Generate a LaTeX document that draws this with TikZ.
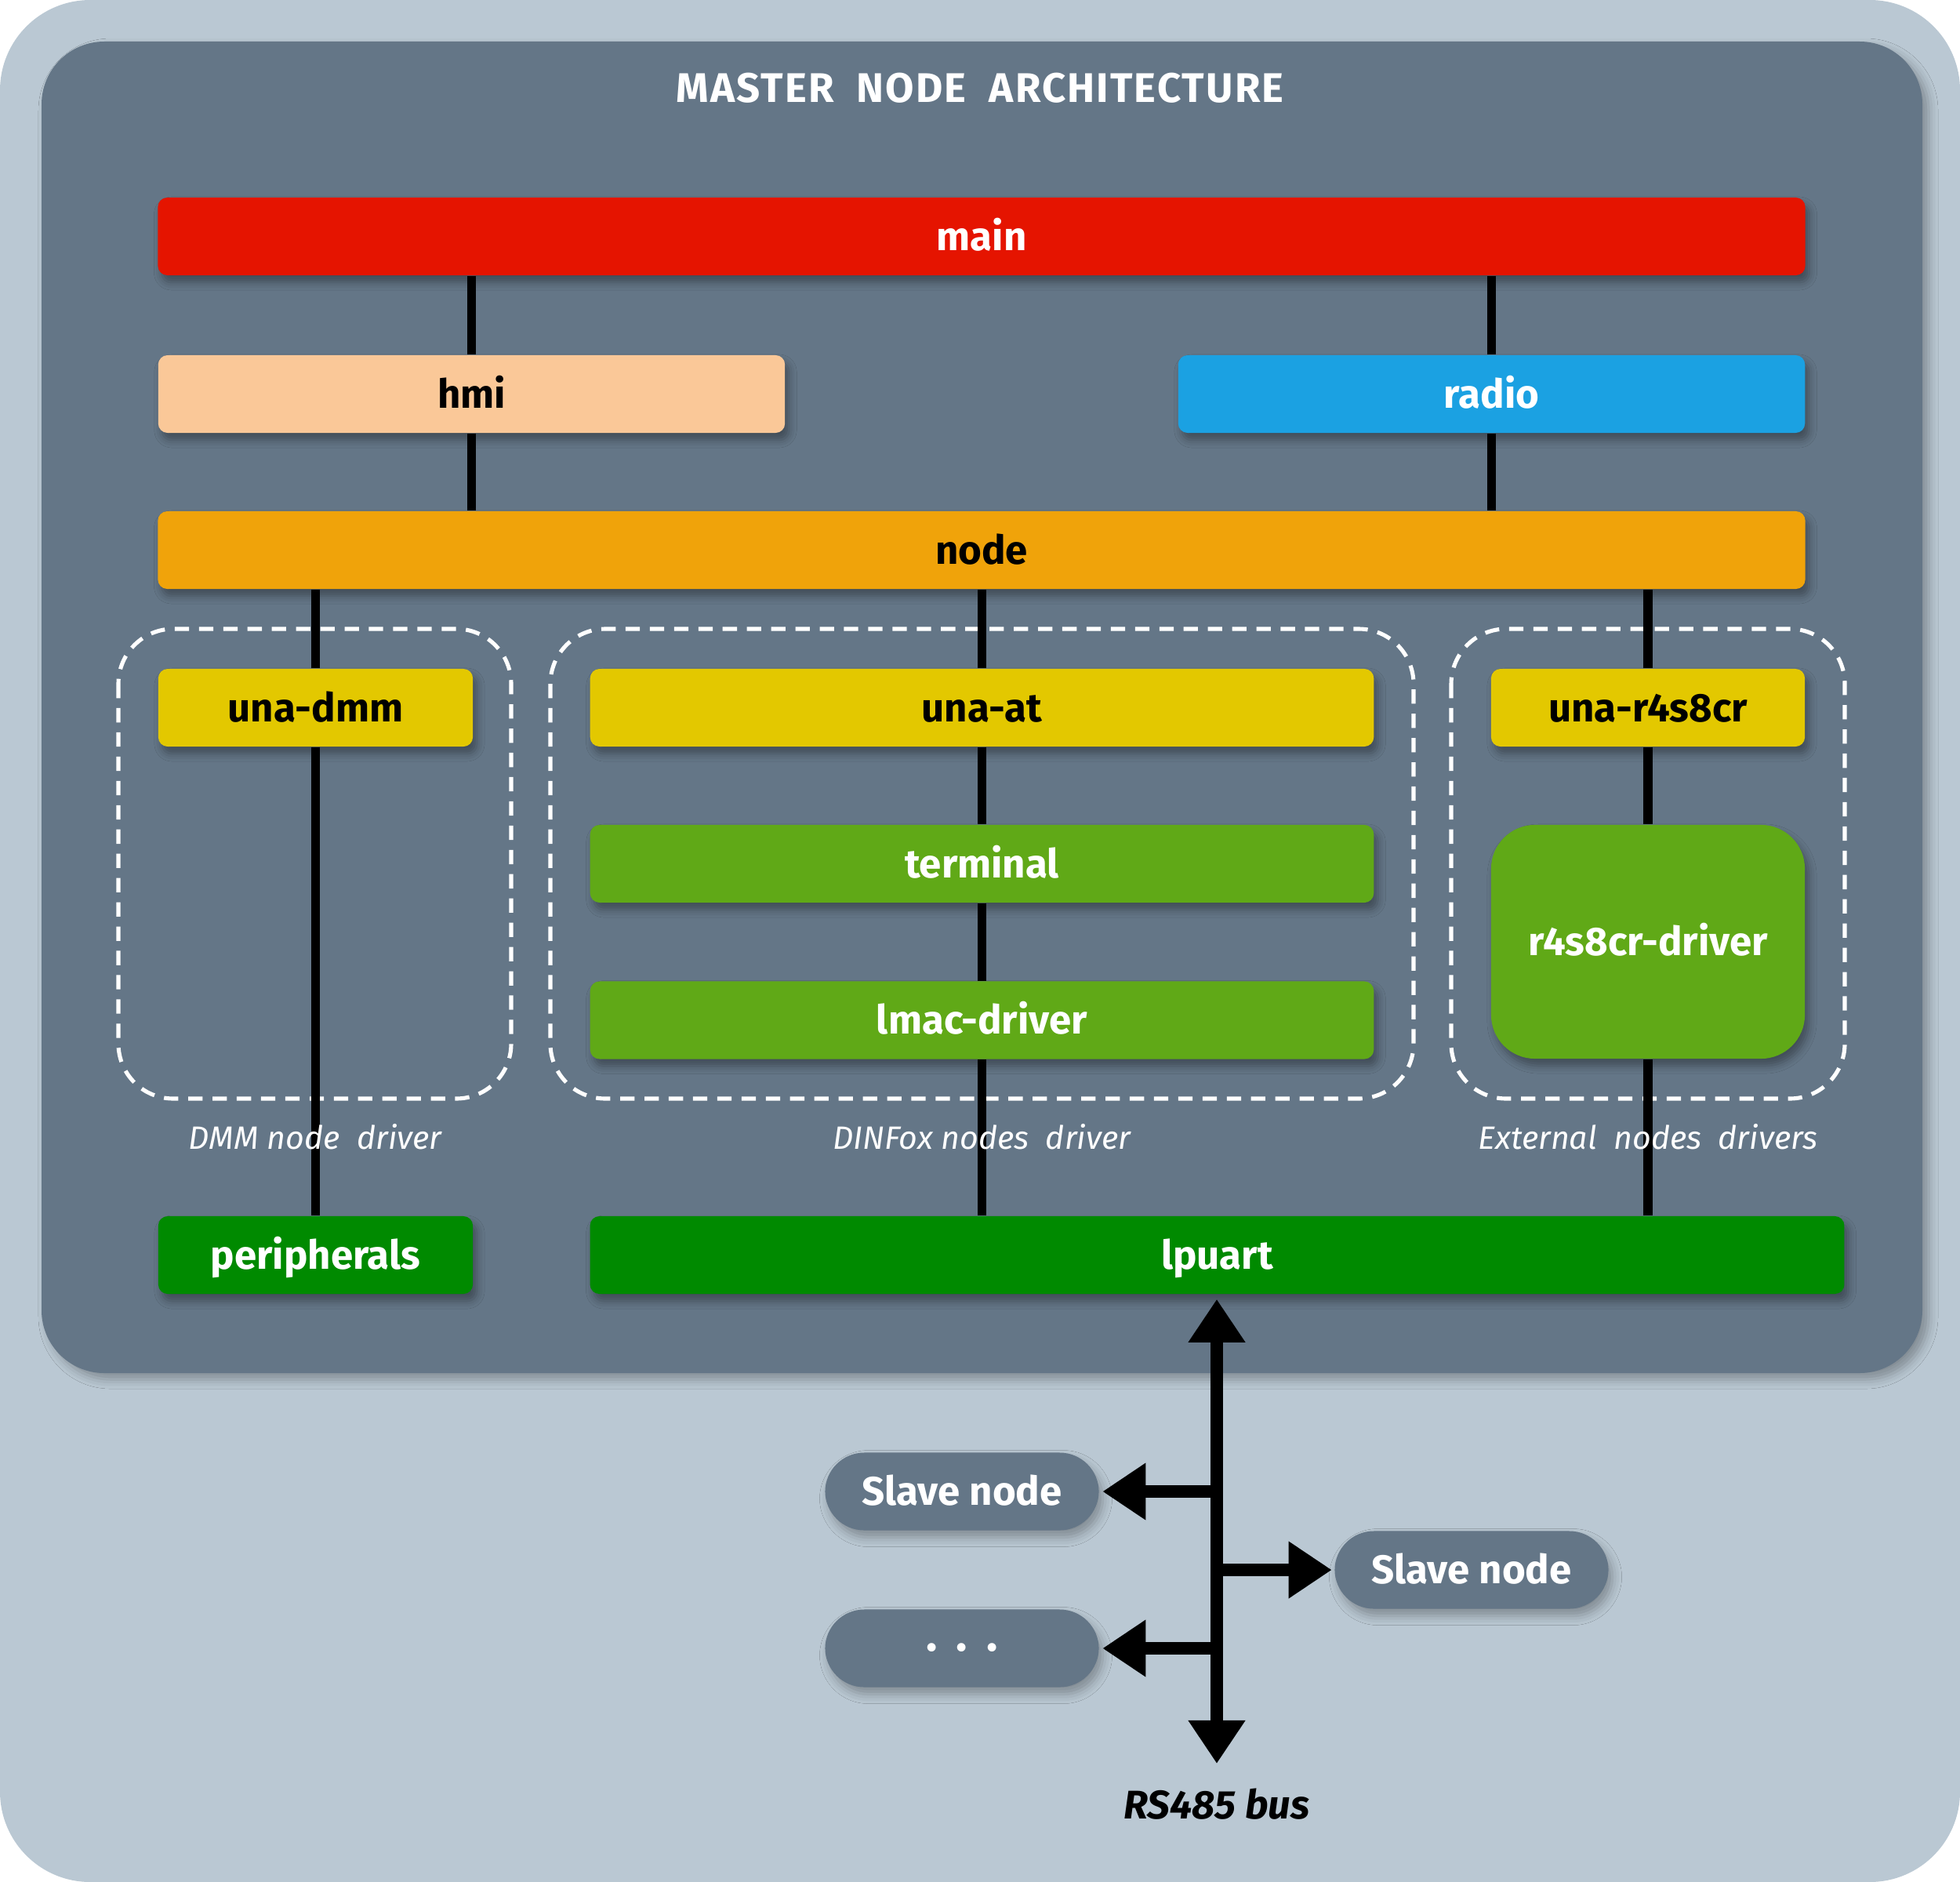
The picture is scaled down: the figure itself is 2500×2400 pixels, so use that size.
\documentclass[tikz,border=0pt]{standalone}
\usepackage{fontspec}
\setmainfont{Fira Sans}
\usetikzlibrary{arrows.meta,shadows.blur}
\definecolor{outerbg}{HTML}{BAC8D3}
\definecolor{panel}{HTML}{647687}
\definecolor{cmain}{HTML}{E51400}
\definecolor{chmi}{HTML}{FAC898}
\definecolor{cradio}{HTML}{1BA1E2}
\definecolor{cnode}{HTML}{F0A30A}
\definecolor{cuna}{HTML}{E3C800}
\definecolor{cdrv}{HTML}{60A917}
\definecolor{cphy}{HTML}{008A00}
\begin{document}
\begin{tikzpicture}[x=0.01cm,y=-0.01cm,
  blk/.style={rectangle, rounded corners=0.12cm, minimum height=0.99cm, inner sep=0pt,
    text height=0.35cm, text depth=0pt, font=\fontsize{14.5}{17}\selectfont\bfseries,
    blur shadow={shadow xshift=0.05cm, shadow yshift=-0.09cm, shadow blur radius=0.1cm, shadow opacity=35}},
  conn/.style={line width=3.2pt, black},
  dbox/.style={draw=white, line width=1.45pt, dash pattern=on 5.2pt off 3.6pt, rounded corners=0.7cm},
  grp/.style={text=white, font=\fontsize{11.7}{14}\selectfont\itshape, anchor=base, inner sep=0pt},
  slave/.style={rectangle, rounded corners=0.5cm, fill=panel, minimum width=3.49cm, minimum height=0.99cm,
    inner sep=0pt, text=white, text height=0.35cm, text depth=0pt, font=\fontsize{14.5}{17}\selectfont\bfseries,
    blur shadow={shadow xshift=0.05cm, shadow yshift=-0.09cm, shadow blur radius=0.12cm, shadow opacity=30}},
  bus/.style={line width=4.3pt, black},
  bigtip/.tip={Triangle[width=0.69cm,length=0.55cm]}
]
\useasboundingbox (0,0) rectangle (2500,2400);
\fill[outerbg, rounded corners=1.15cm] (0,0) rectangle (2500,2400);
\fill[panel, rounded corners=0.8cm, blur shadow={shadow xshift=0.08cm, shadow yshift=-0.08cm, shadow blur radius=0.12cm, shadow opacity=30}] (53,53) rectangle (2452,1751);

\node[text=white, font=\fontsize{15}{18}\selectfont\bfseries\addfontfeature{LetterSpace=4}, anchor=base, inner sep=0pt] (title) at (1250,130) {MASTER\ \ NODE\ \ ARCHITECTURE};

% dashed group boxes
\draw[dbox] (151,802) rectangle (652,1401);
\draw[dbox] (702,802) rectangle (1803,1401);
\draw[dbox] (1851,802) rectangle (2353,1401);

% blocks
\node[blk, fill=cmain, text=white, minimum width=21.00cm] (main) at (1252,301.5) {main};
\node[blk, fill=chmi, text=black, minimum width=7.99cm] (hmi) at (601.5,502.5) {hmi};
\node[blk, fill=cradio, text=white, minimum width=7.99cm] (radio) at (1902.5,502.5) {radio};
\node[blk, fill=cnode, text=black, minimum width=21.00cm] (node) at (1252,701.5) {node};
\node[blk, fill=cuna, text=black, minimum width=4.01cm] (unadmm) at (402.5,902.5) {una-dmm};
\node[blk, fill=cuna, text=black, minimum width=9.99cm] (unaat) at (1252.5,902.5) {una-at};
\node[blk, fill=cuna, text=black, minimum width=4.00cm] (unar) at (2102,902.5) {una-r4s8cr};
\node[blk, fill=cdrv, text=white, minimum width=9.99cm] (terminal) at (1252.5,1101.5) {terminal};
\node[blk, fill=cdrv, text=white, minimum width=9.99cm] (lmac) at (1252.5,1301) {lmac-driver};
\node[blk, fill=cdrv, text=white, minimum width=4.00cm, minimum height=2.98cm, rounded corners=0.56cm] (rdrv) at (2102,1201) {r4s8cr-driver};
\node[blk, fill=cphy, text=white, minimum width=4.01cm] (periph) at (402.5,1600.5) {peripherals};
\node[blk, fill=cphy, text=white, minimum width=15.99cm] (lpuart) at (1552.5,1600.5) {lpuart};

% connectors
\draw[conn] (hmi.north) -- (hmi.north |- main.south);
\draw[conn] (radio.north) -- (radio.north |- main.south);
\draw[conn] (hmi.south) -- (hmi.south |- node.north);
\draw[conn] (radio.south) -- (radio.south |- node.north);
\draw[conn] (unadmm.north) -- (unadmm.north |- node.south);
\draw[conn] (unaat.north) -- (unaat.north |- node.south);
\draw[conn] (unar.north) -- (unar.north |- node.south);
\draw[conn] (unadmm.south) -- (unadmm.south |- periph.north);
\draw[conn] (unaat.south) -- (terminal.north);
\draw[conn] (terminal.south) -- (lmac.north);
\draw[conn] (lmac.south) -- (lmac.south |- lpuart.north);
\draw[conn] (unar.south) -- (rdrv.north);
\draw[conn] (rdrv.south) -- (rdrv.south |- lpuart.north);

% group labels
\node[grp] (lbldmm) at (402,1465) {DMM node\ \ driver};
\node[grp] (lbldin) at (1252,1465) {DINFox nodes\ \ driver};
\node[grp] (lblext) at (2102,1465) {External\ \ nodes\ \ drivers};

% slave nodes
\node[slave] (slave1) at (1227,1902) {Slave node};
\node[slave] (slave2) at (1877,2002) {Slave node};
\node[slave, font=\fontsize{17}{20}\selectfont\bfseries] (dots) at (1227,2102) {·\hspace{0.24cm}·\hspace{0.24cm}·};

% RS485 bus
\coordinate (busbot) at (1552,2249);
\draw[bus, {bigtip}-{bigtip}] ([yshift=-0.06cm]lpuart.south -| busbot) -- (busbot);
\draw[bus, -{bigtip}] (slave1.east -| busbot) -- ([xshift=0.04cm]slave1.east);
\draw[bus, -{bigtip}] (slave2.west -| busbot) -- ([xshift=-0.03cm]slave2.west);
\draw[bus, -{bigtip}] (dots.east -| busbot) -- ([xshift=0.04cm]dots.east);
\node[font=\fontsize{14.5}{17}\selectfont\bfseries\itshape, anchor=base, inner sep=0pt] (buslbl) at (1552,2319) {RS485 bus};
\end{tikzpicture}
\end{document}
